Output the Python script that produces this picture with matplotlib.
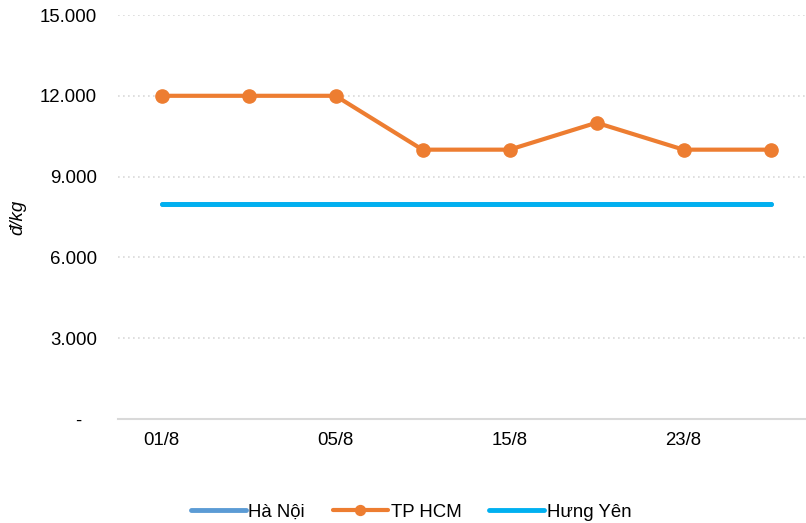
import matplotlib.pyplot as plt
from matplotlib.ticker import FuncFormatter

plt.rcParams['font.family'] = ['Liberation Sans', 'DejaVu Sans']

DAYS = ['01/8', '03/8', '05/8', '08/8', '15/8', '19/8', '23/8', '28/8']
TICK_DAYS = ['01/8', '05/8', '15/8', '23/8']
HA_NOI = [8000, 8000, 8000, 8000, 8000, 8000, 8000, 8000]
TP_HCM = [12000, 12000, 12000, 10000, 10000, 11000, 10000, 10000]
HUNG_YEN = [8000, 8000, 8000, 8000, 8000, 8000, 8000, 8000]

W, H = 806, 523
fig = plt.figure(figsize=(W / 100, H / 100), dpi=100)
ax = fig.add_axes([118 / W, (H - 419) / H, 696 / W, 404 / H])

x = list(range(len(DAYS)))
ax.plot(x, HA_NOI, color='#5B9BD5', lw=3.5, solid_capstyle='round', label='Hà Nội')
ax.plot(x, TP_HCM, color='#ED7D31', lw=3.0, marker='o', ms=9.5,
        solid_capstyle='round', label='TP HCM')
ax.plot(x, HUNG_YEN, color='#00B0F0', lw=3.5, solid_capstyle='round', label='Hưng Yên')

ax.set_xlim(-0.5, len(DAYS) - 0.5)
ax.set_ylim(0, 15000)
ax.set_yticks(range(0, 15001, 3000))
# zero is shown as a dash, accounting style
ax.yaxis.set_major_formatter(FuncFormatter(
    lambda v, _: '-   ' if v == 0 else f'{int(v):,}'.replace(',', '.')))
ax.set_xticks([DAYS.index(d) for d in TICK_DAYS])
ax.set_xticklabels(TICK_DAYS)

ax.tick_params(axis='both', length=0, labelsize=13.4, colors='#000000')
ax.tick_params(axis='x', pad=9.5)
ax.tick_params(axis='y', pad=15)

ax.grid(axis='y', color='#D9D9D9', linestyle=(0, (1, 2)), lw=1.2)
ax.set_axisbelow(True)
for side in ['top', 'right', 'left']:
    ax.spines[side].set_visible(False)
ax.spines['bottom'].set_color('#D9D9D9')
ax.spines['bottom'].set_linewidth(1.5)

fig.text(18 / W, 1 - 217 / H, 'đ/kg', rotation=90, style='italic',
         fontsize=13.4, ha='center', va='center')

fig.legend(loc='center', bbox_to_anchor=(0.51, 11 / H), ncol=3, frameon=False,
           fontsize=13.4, handlelength=2.95, handletextpad=0.15, columnspacing=1.5,
           borderpad=0, markerscale=0.75)

fig.savefig('out.png', dpi=100)
